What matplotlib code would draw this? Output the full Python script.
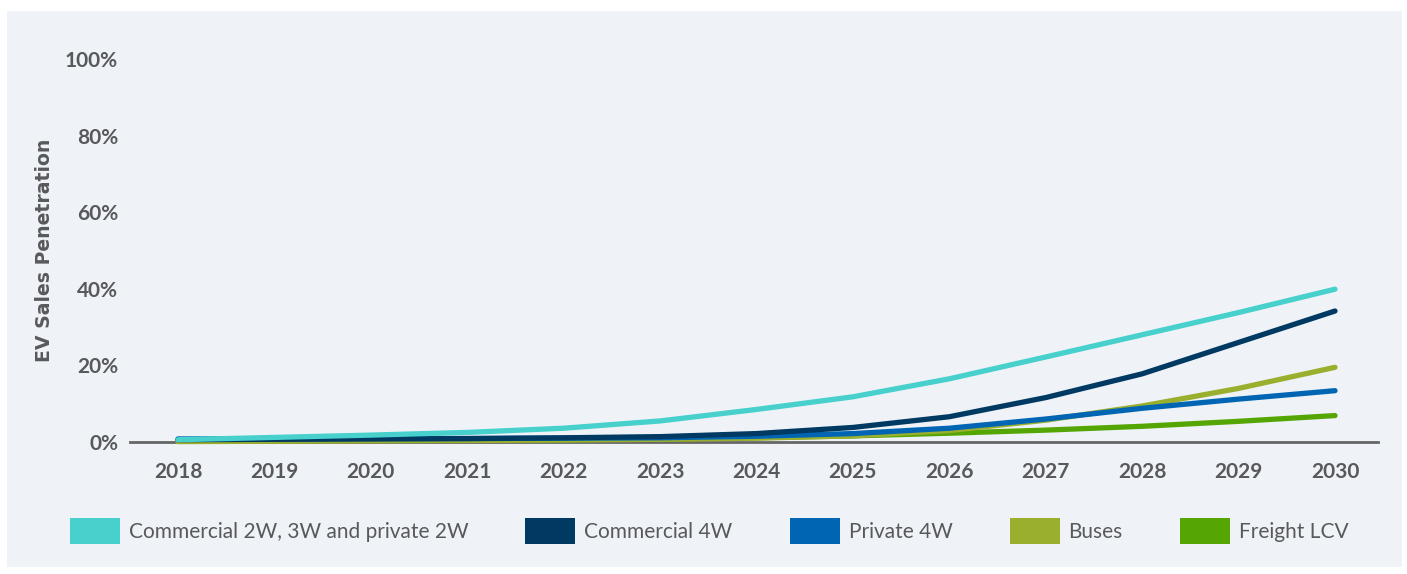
import matplotlib.pyplot as plt
from matplotlib.patches import Patch, Rectangle

years = [2018, 2019, 2020, 2021, 2022, 2023, 2024, 2025, 2026, 2027, 2028, 2029, 2030]

comm_2w3w = [0.6, 1.2, 1.8, 2.5, 3.6, 5.5, 8.5, 11.8, 16.5, 22.2, 28.0, 33.8, 39.9]
comm_4w = [0.6, 0.7, 0.8, 0.9, 1.1, 1.4, 2.2, 3.8, 6.6, 11.6, 17.8, 26.0, 34.2]
private_4w = [0.8, 0.8, 0.9, 0.9, 1.0, 1.1, 1.5, 2.2, 3.6, 6.0, 8.8, 11.2, 13.4]
buses = [0.1, 0.2, 0.3, 0.4, 0.5, 0.7, 1.0, 1.6, 3.0, 5.7, 9.4, 14.0, 19.5]
freight_lcv = [0.4, 0.4, 0.5, 0.5, 0.6, 0.8, 1.1, 1.6, 2.3, 3.1, 4.1, 5.4, 6.9]

series = [
    ("Commercial 2W, 3W and private 2W", comm_2w3w, "#47D0CC"),
    ("Commercial 4W", comm_4w, "#003A63"),
    ("Private 4W", private_4w, "#0066B3"),
    ("Buses", buses, "#9BAF2F"),
    ("Freight LCV", freight_lcv, "#55A603"),
]
draw_order = [4, 3, 2, 1, 0]

yticks = [0, 20, 40, 60, 80, 100]

grey = "#58595B"
panel = "#EFF3F8"

plt.rcParams['font.family'] = ['Lato', 'DejaVu Sans']

fig = plt.figure(figsize=(14.07, 5.74), dpi=100)
fig.patch.set_facecolor("white")
fig.patches.append(Rectangle((7 / 1407, 1 - 567 / 574), 1395 / 1407, 556 / 574,
                             transform=fig.transFigure, facecolor=panel,
                             edgecolor="none", zorder=-10))

ax = fig.add_axes([130 / 1407, 1 - 442 / 574, 1248 / 1407, 383 / 574])
ax.set_facecolor("none")

for i in draw_order:
    name, vals, col = series[i]
    ax.plot(years, vals, color=col, lw=3.8, solid_capstyle="round",
            solid_joinstyle="round", clip_on=False, zorder=3)

ax.set_xlim(2017.502, 2030.446)
ax.set_ylim(0, 100)
ax.set_xticks(years)
ax.set_xticklabels([str(y) for y in years])
ax.set_yticks(yticks)
ax.set_yticklabels([f"{v}%" for v in yticks])

for s in ["top", "right", "left"]:
    ax.spines[s].set_visible(False)
ax.spines["bottom"].set_color("#666666")
ax.spines["bottom"].set_linewidth(2)
ax.spines["bottom"].set_zorder(2)

ax.tick_params(length=0, colors=grey, labelsize=15)
ax.tick_params(axis="x", pad=14.5)
ax.tick_params(axis="y", pad=8.6)
for lab in ax.get_xticklabels() + ax.get_yticklabels():
    lab.set_fontweight("bold")

ax.set_ylabel("EV Sales Penetration", fontsize=13.6, fontweight="bold",
              family=["DejaVu Sans"], color=grey)
ax.yaxis.set_label_coords(-76 / 1248, 0.5)

handles = [Patch(facecolor=col, edgecolor="none", label=name) for name, _, col in series]
fig.legend(handles=handles, ncol=5, loc="center left",
           bbox_to_anchor=(51 / 1407, 1 - 531 / 574), frameon=False,
           fontsize=15, handlelength=2.4, handleheight=1.6,
           handletextpad=0.43, columnspacing=2.74, labelcolor=grey)

fig.savefig("out.png", dpi=100)
